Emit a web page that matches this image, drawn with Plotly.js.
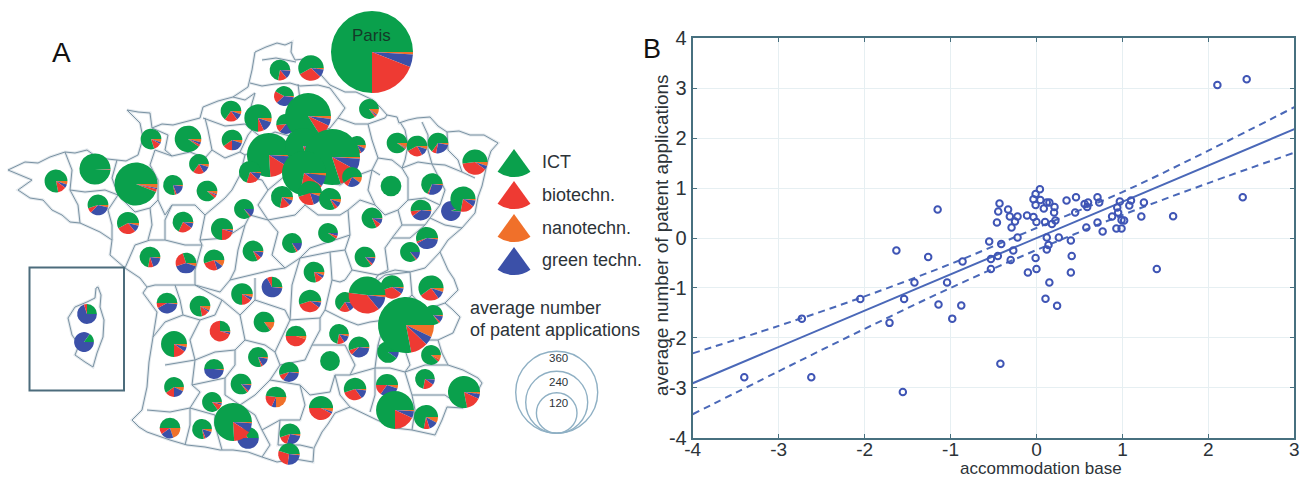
<!DOCTYPE html>
<html><head><meta charset="utf-8">
<script src="https://cdn.plot.ly/plotly-3.0.1.min.js"></script>
<style>html,body{margin:0;padding:0;background:#fff}#c{width:1311px;height:479px}</style>
</head><body><div id="c"></div>
<script>
// Panel B data
const accommodationBase = [2.446,2.105,2.40,1.59,1.40,1.25,1.22,1.10,1.08,.97,.94,.95,.88,.99,1.02,.99,.93,.77,.71,.58,.73,.71,.60,.56,.59,.46,.35,.45,.26,.40,.41,.40,.21,.205,.22,.18,.15,.12,.085,.10,0,-.035,-.11,-.01,-.035,.045,-.01,.04,.12,.14,.12,-.01,0,-.10,.15,.105,.24,-.42,-.22,-.29,-.25,-.22,-.31,-.33,-.43,-.445,-.46,-.55,-.41,-.27,-.30,-.45,-.53,-.53,-3.40,-2.73,-2.62,-2.05,-1.71,-1.63,-1.555,-1.54,-1.42,-1.26,-1.15,-1.14,-1.04,-.98,-.875,-.86];
const patentScore = [3.18,3.065,.815,.434,-.62,.71,.43,.75,.65,.73,.61,.51,.43,.36,.35,.19,.19,.13,.31,.21,.71,.815,.71,.68,.62,.815,.75,.51,.01,-.05,-.36,-.69,.62,.51,.35,.28,.71,.71,.59,.32,.32,.42,.45,.66,.775,.76,.88,.975,.01,-.14,-.23,-.40,-.62,-.69,-.89,-1.215,-1.355,-2.52,.01,.21,.33,.43,.43,.57,.69,.53,.31,-.07,-.12,-.25,-.44,-.36,-.42,-.62,-2.79,-1.615,-2.79,-1.22,-1.70,-.25,-3.085,-1.22,-.89,-.38,.57,-1.33,-.89,-1.615,-1.35,-.47];
const fitX = [-4,3];
const fitY = [-2.91,2.18];
const bandX = [-4,-3,-2,-1,0,1,2,3];
const bandUpper = [-2.31,-1.76,-1.17,-.52,.2,.92,1.75,2.62];
const bandLower = [-3.53,-2.67,-1.82,-1.0,-.24,.46,1.1,1.71];
const xTickVals = [-4,-3,-2,-1,0,1,2,3];
const xTickText = ['-4','-3','-2','-1','0','1','2','3'];
const yTickVals = [-4,-3,-2,-1,0,1,2,3,4];
const yTickText = ['-4','-3','-2','-1','0','1','2','3','4'];

// Panel A data: department map position (x, y), patents, shares ICT, biotech, green, nano
const techLabels = ['nanotechn.','green techn.','biotechn.','ICT'];
const techColors = ['#f0702a','#3b50a8','#ee3a33','#0aa04c'];
const departments = [
[280,70,23,72,14,13,1],[311,68,35,58,30,10,2],[284,96,21,42,20,36,2],[231,111,23,65,20,10,5],[258,118,40,75,7,13,5],
[286,124,21,52,12,33,3],[308,116,113,84,9,5,2],[232,140,23,60,15,20,5],[151,139,23,80,12,3,5],[188,139,38,90,3,3,4],
[357,145,17,78,5,10,7],[369,109,21,85,3,2,10],[397,143,23,90,2,1,7],[417,146,23,58,25,12,5],[438,143,23,65,7,25,3],[475,162,34,52,38,5,5],
[269,155,104,76,15,8,1],[303,146,69,80,10,8,2],[332,157,168,80,12,7,1],[304,173,104,72,18,8,2],[310,193,31,55,25,15,5],[282,197,26,72,15,8,5],[250,172,26,70,18,10,2],
[352,177,21,60,8,22,10],[199,164,21,65,18,12,5],[95,169,52,99,.5,.3,.2],[56,181,28,78,12,5,5],[136,184,99,94,2,1,3],[173,185,21,78,3,17,2],[207,191,23,88,5,2,5],
[98,205,23,55,8,33,4],[244,209,21,85,2,13,0],[128,223,26,58,28,10,4],[183,222,23,68,22,8,2],[222,229,26,75,20,3,2],
[391,186,23,100,0,0,0],[432,184,25,68,2,28,2],[330,199,26,82,5,8,5],[451,211,21,5,2,92,1],[463,199,34,72,18,8,2],[421,210,23,52,8,38,2],[372,218,23,82,8,9,1],
[427,238,26,55,3,40,2],[328,233,21,90,5,5,0],[292,243,21,82,3,15,0],
[150,257,23,72,8,18,2],[186,263,23,30,25,40,5],[214,260,23,55,25,10,10],[253,251,23,82,7,9,2],[314,272,23,78,12,5,5],
[365,257,23,85,3,10,2],[410,252,21,85,2,13,0],[242,294,25,75,15,5,5],[272,287,23,25,8,65,2],[310,301,27,55,35,8,2],
[167,303,23,50,8,40,2],[200,306,23,78,12,3,7],[220,331,23,25,70,3,2],[264,322,23,85,3,0,12],[296,336,23,50,45,0,5],[174,344,36,75,15,6,4],
[214,369,21,50,0,48,2],[258,357,21,80,3,14,3],[289,372,21,55,10,33,2],[174,387,21,60,15,18,7],[241,384,23,85,3,10,2],[276,397,23,48,20,7,25],
[212,402,21,85,10,3,2],[170,428,23,50,10,20,20],[202,429,21,78,3,14,5],[248,438,25,35,15,50,0],[233,422,77,76,15,8,1],[290,434,23,55,15,27,3],[289,454,25,45,28,25,2],
[87,314,21,25,5,70,0],[84,342,21,15,0,85,0],[321,408,31,50,42,3,5],[330,361,21,100,0,0,0],
[345,302,21,65,18,15,2],[392,287,29,55,35,8,2],[367,295,73,48,38,12,2],[431,288,34,60,25,10,5],[433,315,21,85,3,10,2],[388,352,25,90,0,10,0],[406,325,168,78,10,5,7],
[431,355,21,88,4,0,8],[339,334,21,72,12,12,4],[359,347,23,55,8,35,2],[425,379,21,72,18,9,1],[355,389,27,55,30,13,2],[387,385,26,50,15,30,5],[464,392,55,78,15,5,2],[395,410,77,75,18,6,1],[426,417,31,72,8,12,8],
[372,52,360,75,19,5,1]
];
const legendKeys = ['ICT','biotechn.','nanotechn.','green techn.'];
const legendColors = ['#0aa04c','#ee3a33','#f0702a','#3b50a8'];
const legendApexY = [149,181,214,247];
const sizeKey = [360,240,120];
const sizeKeyR = [41,31,20.3];

// Map outlines (map coordinates)
const franceOutline = [255,52,266,47,277,43,285,45,292,42,291,52,295,60,304,59,312,62,322,76,330,85,345,92,356,92,365,96,373,100,380,107,387,115,397,117,399,123,408,120,417,118,430,117,438,126,447,132,459,131,470,135,484,135,498,143,491,151,488,160,485,173,482,186,478,197,475,213,462,228,448,240,440,252,444,261,448,270,454,279,458,290,445,303,452,309,460,317,453,333,438,340,442,353,448,365,463,370,478,378,482,383,473,400,463,408,447,407,442,420,435,435,412,430,395,428,377,420,350,407,335,413,328,424,322,432,314,448,313,462,295,459,277,462,262,457,248,452,233,450,220,450,205,447,187,445,170,440,147,432,139,427,132,420,142,410,147,387,149,362,153,337,157,312,143,293,147,287,140,278,125,268,110,255,112,240,100,232,80,223,70,222,62,215,52,210,43,200,30,198,18,190,32,180,8,170,25,162,38,163,50,157,65,152,75,153,87,150,98,158,117,160,126,161,138,155,143,138,140,123,127,110,138,112,150,113,152,128,162,124,173,125,186,122,200,118,203,107,218,101,233,97,248,87,252,70,255,52];
const corsicaOutline = [96,288,98,287,101,295,100,307,104,320,103,337,97,353,93,367,85,362,75,355,79,345,72,335,68,318,75,307,87,302,95,298,96,288];
const deptBorders = [
[65,152,72,170,70,190,78,205,80,223],[117,160,112,178,118,195,108,210,112,225,112,240],[70,190,85,192,105,190,118,195],
[118,195,135,212,150,208,158,200,158,180,150,165,155,150,172,156],[152,128,168,135,165,150,172,156,190,152,205,158,212,150],[205,118,208,130,212,150],
[203,118,225,126,245,124,252,130],[212,150,225,158,240,152,248,135,252,130],[233,97,245,100,255,93,250,110,252,130],
[252,130,262,138,275,132,290,136,296,112,300,100,298,84],[250,83,262,86,275,84,290,83,300,86,318,85,330,88],[262,60,276,58,296,62],[262,138,255,150,245,155,240,152],
[290,136,300,130,318,132,330,128,338,118,345,108,330,88],[338,118,355,124,368,124,385,118,387,115],[368,124,372,140,378,158,372,170,380,175],
[378,158,392,160,402,168,418,162,432,164,445,165,462,172,475,178],[400,122,405,130,408,145,405,160,402,168],[422,122,428,135,428,150,432,164],[447,132,448,150,458,160,462,172],
[372,170,368,190,375,205,360,200,348,210],[245,155,240,175,232,190,225,198],[240,175,262,180,268,190,258,205,268,220],[290,136,285,150,292,170,280,180,268,190],
[330,128,325,140,322,180,310,180,292,170],[322,180,340,185,350,178,372,170],[310,180,305,205,295,215,268,220],[305,205,318,215,340,215,348,210],
[402,168,408,178,408,200,398,210,402,225,392,238],[432,164,445,190,440,205,430,218,445,225,462,228],[408,200,425,198,440,205],[375,205,385,215,398,210],
[348,210,350,235,345,250,352,270,345,280],[392,238,385,248,388,270,378,275],[402,225,425,225,430,218],[392,238,410,238,425,225],[352,270,378,275,395,270,410,272,425,268,440,252],
[158,200,165,215,172,205,195,205,205,215,225,198],[205,215,200,240,202,245,185,245,165,240,150,240,135,245,125,268],[150,208,152,225,148,240],[172,205,165,220,165,240],
[200,240,225,238,245,225,250,215,268,220,278,232,272,255,285,268,300,258,330,252,345,250],[245,225,238,250,235,270,230,280],[202,245,195,270,195,285,175,285,155,285,147,287],[195,285,220,292,230,280,252,275,272,270,285,268],
[300,258,310,248,350,235],[330,252,332,280,340,282,345,280],[175,285,180,300,183,315,200,320],[195,285,222,300,215,315,200,320,190,340,195,360],[222,300,240,315,245,310,255,300,255,278],[255,300,285,310,290,320,292,285,300,258],
[153,337,165,322,183,315],[240,315,245,340,235,350,215,352,195,360],[245,340,265,345,275,352,290,320],[290,320,320,318,325,310,332,280],[275,352,280,365,305,360,312,345,320,330,320,318],[312,345,345,345,355,365,350,375],
[325,310,345,320,358,325,370,322,385,320],[378,275,372,285,385,275,410,272,412,295,425,310,445,303],[412,295,385,320,378,345,375,368],[378,345,405,350,420,340,438,340],[405,350,410,365,405,372,425,365,448,365],[375,368,390,368,405,372],
[165,365,195,360,192,385,200,392,190,408,170,412,147,410],[192,385,225,378,235,365,235,350],[225,378,225,395,240,405,255,395,270,380,280,365],[240,405,255,415,262,430,270,445,262,457],[270,380,300,385,310,395,330,392,335,375,350,375],
[190,408,190,425,185,445],[190,408,215,415,215,425,222,450],[300,385,305,405,300,420,280,420,262,430],[280,420,278,445,300,445,313,448],[335,375,340,395,350,407],[350,375,370,370,375,368,375,395,370,412],
[405,372,412,395,415,410,412,430],[412,395,445,395,463,408]
];

const W=1311,H=479;
const traces=[];
const borderX=[],borderY=[];
[franceOutline,corsicaOutline,...deptBorders].forEach(l=>{for(let i=0;i<l.length;i+=2){borderX.push(l[i]);borderY.push(l[i+1]);}borderX.push(null);borderY.push(null);});
traces.push({type:'scatter',mode:'lines',x:borderX,y:borderY,xaxis:'x2',yaxis:'y2',line:{color:'#e3e9ed',width:3},hoverinfo:'skip',showlegend:false});
traces.push({type:'scatter',mode:'lines',x:borderX,y:borderY,xaxis:'x2',yaxis:'y2',line:{color:'#7a92a3',width:1},hoverinfo:'skip',showlegend:false});

// radius in px from the number of patents (360 patents = the 41 px key circle)
const radius=n=>41*Math.sqrt(n/360);
const dom=(cx,cy,r)=>({x:[(cx-r)/W,(cx+r)/W],y:[1-(cy+r)/H,1-(cy-r)/H]});
departments.forEach(d=>{
  // clockwise from 3 o'clock: nano, green, biotech, ICT
  traces.push({type:'pie',values:[d[6],d[5],d[4],d[3]],labels:techLabels,sort:false,direction:'clockwise',rotation:90,
    textinfo:'none',hoverinfo:'label+percent',showlegend:false,marker:{colors:techColors,line:{width:0}},domain:dom(d[0],d[1],radius(d[2]))});
});
legendKeys.forEach((k,i)=>{
  traces.push({type:'pie',values:[72,288],labels:[k,'rest'],sort:false,direction:'clockwise',rotation:144,textinfo:'none',hoverinfo:'skip',showlegend:false,
    marker:{colors:[legendColors[i],'rgba(0,0,0,0)'],line:{width:0}},domain:dom(514,legendApexY[i],28)});
});

// Panel B
const lineCol='#4a68b8';
traces.push({type:'scatter',mode:'lines',x:bandX,y:bandUpper,line:{color:lineCol,width:2,dash:'7px,5px',shape:'spline'},hoverinfo:'skip',showlegend:false});
traces.push({type:'scatter',mode:'lines',x:bandX,y:bandLower,line:{color:lineCol,width:2,dash:'7px,5px',shape:'spline'},hoverinfo:'skip',showlegend:false});
traces.push({type:'scatter',mode:'lines',x:fitX,y:fitY,line:{color:lineCol,width:2},hoverinfo:'skip',showlegend:false});
traces.push({type:'scatter',mode:'markers',x:accommodationBase,y:patentScore,marker:{symbol:'circle-open',size:6.5,color:'#3f55b5',line:{width:2,color:'#3f55b5'}},showlegend:false});

const shapes=[{type:'rect',xref:'x2',yref:'y2',x0:29.5,x1:124,y0:267.5,y1:390.5,line:{color:'#4c6c7c',width:2}}];
sizeKey.forEach((n,i)=>{const r=sizeKeyR[i];shapes.push({type:'circle',xref:'x2',yref:'y2',x0:556.7-r,x1:556.7+r,y0:433.3-2*r,y1:433.3,line:{color:'#8fb0c4',width:1.4}});});

const txt=(t,x,y,size,anchor,extra)=>Object.assign({xref:'x2',yref:'y2',x,y,text:t,showarrow:false,xanchor:anchor||'left',yanchor:'middle',font:{size,color:'#2c3338',family:'Liberation Sans, Arial, sans-serif'}},extra||{});
const ann=[
 txt('A',61,52,28,'center',{font:{size:28,color:'#111',family:'Liberation Sans'}}),txt('B',652,49,27,'center',{font:{size:27,color:'#111',family:'Liberation Sans'}}),txt('Paris',371,35,17,'center',{font:{size:17,color:'#143a28',family:'Liberation Sans'}}),
 txt('ICT',540,162,18),txt('biotechn.',540,195,18),txt('nanotechn.',540,228,18),txt('green techn.',540,260,18),
 txt('average number',468,308,18),txt('of patent applications',468,330,18),
 txt('360',558.7,358,11.5,'center'),txt('240',558.7,381.5,11.5,'center'),txt('120',558.7,403,11.5,'center'),
 txt('accommodation base',1041,468,17,'center',{borderpad:0}),
 txt('average number of patent applications',661,236,18.9,'center',{textangle:-90})
];

const axisCol='#47707f';
const layout={width:W,height:H,margin:{l:0,r:0,t:0,b:0},paper_bgcolor:'#fff',plot_bgcolor:'rgba(0,0,0,0)',showlegend:false,shapes,annotations:ann,
 font:{family:'Liberation Sans, Arial, sans-serif',color:'#2c3338'},
 xaxis:{domain:[692.7/W,1294.3/W],range:[-4,3],tickmode:'array',tickvals:xTickVals,ticktext:xTickText,ticks:'inside',ticklen:4,tickcolor:axisCol,showline:true,linecolor:axisCol,linewidth:2,mirror:'ticks',ticklabelstandoff:-7,
   showgrid:true,gridcolor:'#e6eff2',gridwidth:1,zeroline:false,tickfont:{size:19,color:'#2c3338'},anchor:'y'},
 yaxis:{domain:[41.3/H,440.7/H],range:[-4,4],tickmode:'array',tickvals:yTickVals,ticktext:yTickText,ticks:'inside',ticklen:4,tickcolor:axisCol,showline:true,linecolor:axisCol,linewidth:2,mirror:'ticks',
   showgrid:true,gridcolor:'#e6eff2',gridwidth:1,zeroline:false,tickfont:{size:20,color:'#2c3338'},anchor:'x'},
 xaxis2:{domain:[0,1],range:[0,W],visible:false,anchor:'y2'},
 yaxis2:{domain:[0,1],range:[H,0],visible:false,anchor:'x2'}
};
Plotly.newPlot('c',traces,layout,{displayModeBar:false,responsive:false});
</script></body></html>
